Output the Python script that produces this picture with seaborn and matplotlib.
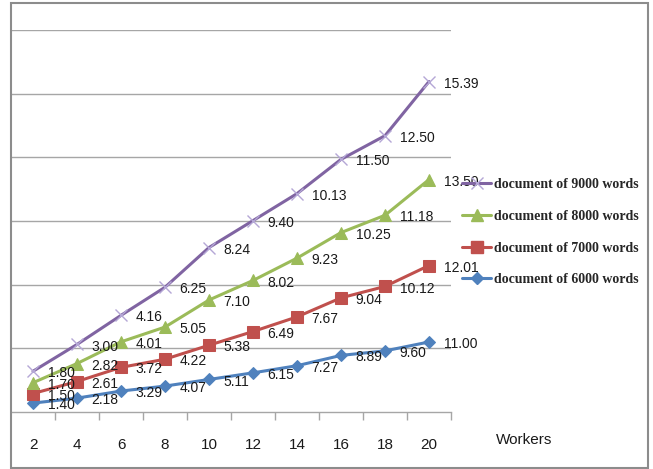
import numpy as np
import pandas as pd
import matplotlib
matplotlib.use("Agg")
import matplotlib.pyplot as plt
from matplotlib.lines import Line2D
from matplotlib.patches import Rectangle
import seaborn as sns

# Processing time per document size, by number of workers
workers = [2, 4, 6, 8, 10, 12, 14, 16, 18, 20]
words_6000 = [1.40, 2.18, 3.29, 4.07, 5.11, 6.15, 7.27, 8.89, 9.60, 11.00]
words_7000 = [1.50, 2.61, 3.72, 4.22, 5.38, 6.49, 7.67, 9.04, 10.12, 12.01]
words_8000 = [1.70, 2.82, 4.01, 5.05, 7.10, 8.02, 9.23, 10.25, 11.18, 13.50]
words_9000 = [1.80, 3.00, 4.16, 6.25, 8.24, 9.40, 10.13, 11.50, 12.50, 15.39]

series_names = ["document of 6000 words", "document of 7000 words",
                "document of 8000 words", "document of 9000 words"]
series_values = [words_6000, words_7000, words_8000, words_9000]
colors = ["#4F81BD", "#C0504D", "#9BBB59", "#8064A2"]
markers = ["D", "s", "^", "x"]
marker_sizes = [6.5, 8, 8.5, 9]

sns.set_theme(style="white")
label_font = ["Liberation Sans Narrow", "Liberation Sans", "DejaVu Sans"]

fig = plt.figure(figsize=(6.53, 4.69), dpi=100)
ax = fig.add_axes([11 / 653, 1 - 412 / 469, 440 / 653, 382 / 469])

# Stacked line chart: each series sits on top of the previous ones
stacked = np.cumsum(np.array(series_values), axis=0)
df = pd.DataFrame({
    "Workers": np.tile(workers, len(series_names)),
    "stacked": stacked.ravel(),
    "value": np.array(series_values).ravel(),
    "series": np.repeat(series_names, len(workers)),
})

for name, color, mk, ms in zip(series_names, colors, markers, marker_sizes):
    sub = df[df["series"] == name]
    if mk == "x":
        sns.lineplot(data=sub, x="Workers", y="stacked", ax=ax, color=color,
                     linewidth=2.2, marker="x", markersize=ms,
                     markeredgecolor="#B4A7D6", markeredgewidth=1.0, zorder=3)
    else:
        sns.lineplot(data=sub, x="Workers", y="stacked", ax=ax, color=color,
                     linewidth=2.2, marker=mk, markersize=ms,
                     markeredgecolor=color, markerfacecolor=color, zorder=3)
    for xv, yv, val in zip(sub["Workers"], sub["stacked"], sub["value"]):
        ax.annotate(f"{val:.2f}", (xv, yv), xytext=(10.5, -1.5),
                    textcoords="offset points", ha="left", va="center",
                    fontsize=10, family=label_font, color="#1a1a1a", zorder=5)

# Axes styling
ax.set_xlim(1, 21)
ax.set_ylim(0, 60)
ax.set_yticks(np.arange(10, 61, 10))
ax.set_yticklabels([])
ax.yaxis.grid(True, color="#A6A6A6", linewidth=1.0)
ax.xaxis.grid(False)
ax.set_xticks(workers)
ax.set_xticklabels([str(w) for w in workers], family=label_font,
                   fontsize=11, color="#1a1a1a")
ax.set_xticks(np.arange(3, 22, 2), minor=True)
ax.tick_params(axis="x", which="major", length=0, pad=19)
ax.tick_params(axis="x", which="minor", length=5.5, width=1.0,
               color="#A6A6A6", direction="out", bottom=True)
ax.tick_params(axis="y", length=0)
for side in ["top", "right", "left"]:
    ax.spines[side].set_visible(False)
ax.spines["bottom"].set_color("#A6A6A6")
ax.spines["bottom"].set_linewidth(1.0)
ax.set_xlabel("")
ax.set_ylabel("")
ax.set_facecolor("white")

fig.text(496 / 653, 1 - 440 / 469, "Workers", ha="left", va="center",
         fontsize=11, family=label_font, color="#1a1a1a")

# Legend, top entry is the uppermost stacked series
handles = []
for name, color, mk, ms in list(zip(series_names, colors, markers, marker_sizes))[::-1]:
    if mk == "x":
        h = Line2D([], [], color=color, linewidth=2.2, marker="x", markersize=ms,
                   markeredgecolor="#B4A7D6", markeredgewidth=1.0)
    else:
        h = Line2D([], [], color=color, linewidth=2.2, marker=mk, markersize=ms,
                   markeredgecolor=color, markerfacecolor=color)
    handles.append(h)
fig.legend(handles, series_names[::-1], loc="upper left",
           bbox_to_anchor=(462 / 653, 1 - 178 / 469), frameon=False,
           borderpad=0, borderaxespad=0, handlelength=2.1, handletextpad=0.2,
           labelspacing=1.35,
           prop={"family": ["Liberation Serif", "DejaVu Serif"],
                 "weight": "bold", "size": 10})

# Outer chart frame
fig.patches.append(Rectangle((11 / 653, 1 - 468 / 469), 637 / 653, 465 / 469,
                             transform=fig.transFigure, fill=False,
                             edgecolor="#8C8C8C", linewidth=1.5, zorder=10))

fig.savefig("out.png", dpi=100, facecolor="white")
